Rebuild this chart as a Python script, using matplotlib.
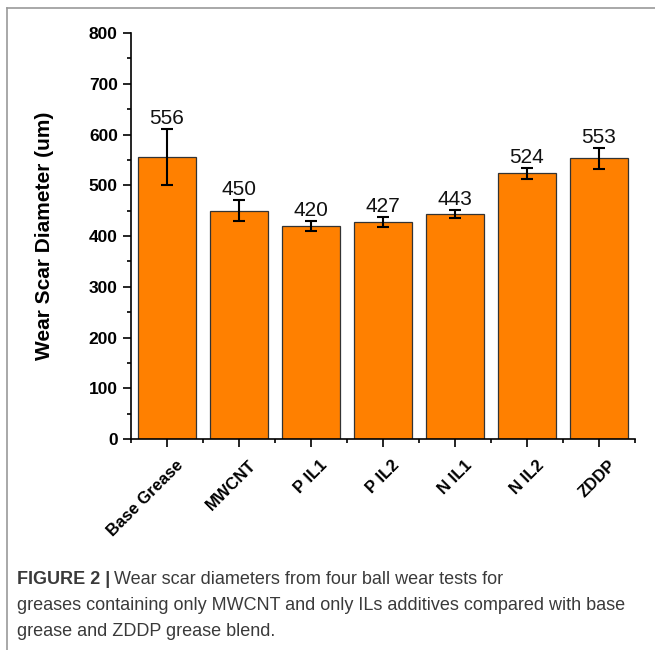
import numpy as np
import matplotlib.pyplot as plt
import matplotlib.transforms as mtransforms
from matplotlib.ticker import MultipleLocator, FixedLocator
from matplotlib.lines import Line2D

plt.rcParams['font.family'] = ['Liberation Sans', 'DejaVu Sans']

# datos
muestras = ['Base Grease', 'MWCNT', 'P IL1', 'P IL2', 'N IL1', 'N IL2', 'ZDDP']
diametro = [556, 450, 420, 427, 443, 524, 553]
error = [55, 20, 10, 10, 8, 11, 20]

fig = plt.figure(figsize=(6.55, 6.5), dpi=100)
ax = fig.add_axes([0.2, 0.3246, 0.7695, 0.6246])

x = np.arange(len(muestras))
ax.bar(x, diametro, width=0.8, color='#FF8000', edgecolor='#333333', linewidth=0.9, zorder=2)
ax.errorbar(x, diametro, yerr=error, fmt='none', ecolor='black', elinewidth=1.5,
            capsize=4.5, capthick=1.5, zorder=3)

for xi, v, e in zip(x, diametro, error):
    ax.annotate(str(v), (xi, v + e), xytext=(0, 3.6), textcoords='offset points',
                ha='center', va='baseline', fontsize=15, color='#111111')

ax.set_xlim(-0.5, 6.5)
ax.set_ylim(0, 800)
ax.yaxis.set_major_locator(MultipleLocator(100))
ax.yaxis.set_minor_locator(MultipleLocator(50))
ax.set_xticks(x)
ax.xaxis.set_minor_locator(FixedLocator(np.arange(-0.5, 7, 1)))

ax.spines['top'].set_visible(False)
ax.spines['right'].set_visible(False)
ax.spines['left'].set_linewidth(1.2)
ax.spines['bottom'].set_linewidth(1.2)
ax.tick_params(which='major', direction='out', length=5.5, width=1.2)
ax.tick_params(which='minor', direction='out', length=3, width=1.2)
ax.tick_params(axis='y', which='major', pad=4, labelsize=12.5)

ax.set_yticks(np.arange(0, 801, 100))
for lab in ax.get_yticklabels():
    lab.set_fontweight('bold')

ax.set_xticklabels(muestras, rotation=45, ha='right', va='top', rotation_mode='anchor',
                   fontsize=12, fontweight='bold')
ax.tick_params(axis='x', which='major', pad=8)
offset = mtransforms.ScaledTranslation(0.09, 0, fig.dpi_scale_trans)
for lab in ax.get_xticklabels():
    lab.set_transform(lab.get_transform() + offset)

ax.set_ylabel('Wear Scar Diameter (um)', fontsize=15, fontweight='bold', labelpad=25)

# marco de la figura
fig.add_artist(Line2D([7 / 655, 7 / 655], [0, 1 - 8 / 650], color='#9a9a9a', linewidth=1.2))
fig.add_artist(Line2D([7 / 655, 1], [1 - 8 / 650, 1 - 8 / 650], color='#9a9a9a', linewidth=1.2))

# leyenda de la figura
color_txt = '#3a3a3a'
tam = 13
t1 = fig.text(17 / 655, 1 - 580 / 650, 'FIGURE 2 |', fontsize=tam, fontweight='bold',
              color=color_txt, va='center', ha='left')
renderer = fig.canvas.get_renderer()
bb = t1.get_window_extent(renderer)
fig.text(bb.x1 / 655 + 4 / 655, 1 - 580 / 650, 'Wear scar diameters from four ball wear tests for',
         fontsize=tam, color=color_txt, va='center', ha='left')
fig.text(17 / 655, 1 - 606 / 650,
         'greases containing only MWCNT and only ILs additives compared with base',
         fontsize=tam, color=color_txt, va='center', ha='left')
fig.text(17 / 655, 1 - 631 / 650, 'grease and ZDDP grease blend.',
         fontsize=tam, color=color_txt, va='center', ha='left')

fig.savefig('out.png', dpi=100)
